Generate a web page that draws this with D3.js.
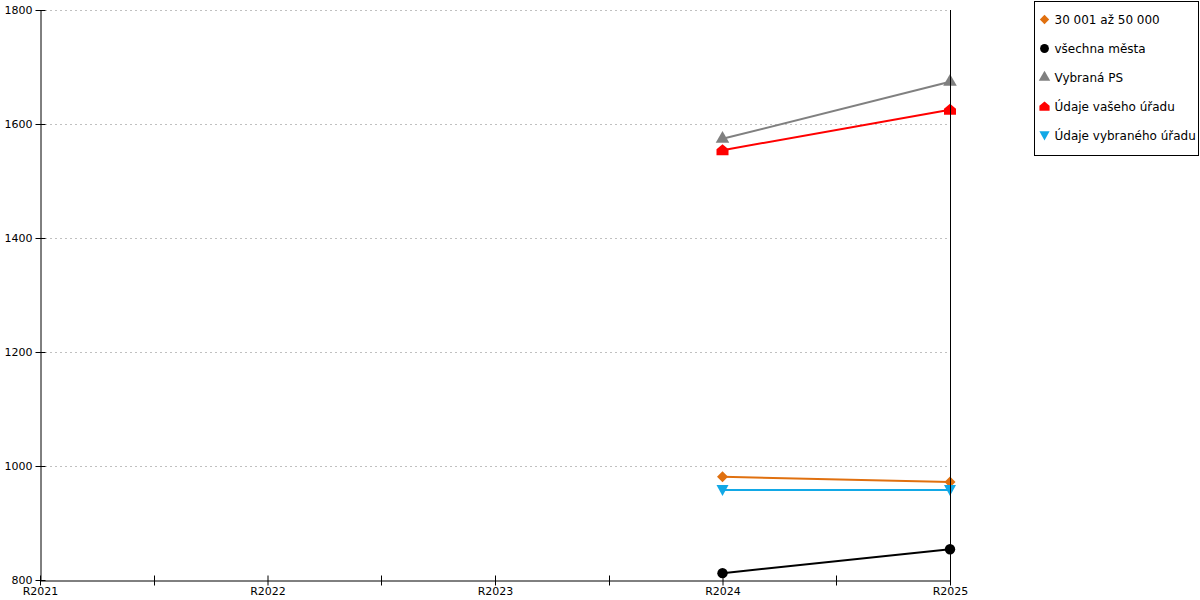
<!DOCTYPE html>
<html>
<head>
<meta charset="utf-8">
<script src="https://cdn.jsdelivr.net/npm/d3@7"></script>
<style>
  body { margin: 0; background: #fff; }
  text { font-family: "DejaVu Sans", Verdana, sans-serif; }
</style>
</head>
<body>
<div id="plot"></div>
<script>
// data
const years = ["R2021", "R2022", "R2023", "R2024", "R2025"];
const yTicks = [800, 1000, 1200, 1400, 1600, 1800];
const seriesNames = ["30 001 až 50 000", "všechna města", "Vybraná PS", "Údaje vašeho úřadu", "Údaje vybraného úřadu"];
const sizeGroup = [null, null, null, 981, 972];
const allCities = [null, null, null, 812, 854];
const selectedPS = [null, null, null, 1574, 1674];
const yourOffice = [null, null, null, 1554, 1625];
const selectedOffice = [null, null, null, 958, 958];

const width = 1200, height = 600;
const margin = {top: 10, right: 250, bottom: 20, left: 40};

const svg = d3.select("#plot").append("svg")
    .attr("width", width)
    .attr("height", height);

const x = d3.scalePoint().domain(years).range([margin.left, width - margin.right]);
const y = d3.scaleLinear().domain([800, 1800]).range([height - margin.bottom, margin.top]);

// grid
svg.append("g")
  .selectAll("line")
  .data(yTicks.filter(d => d > 800))
  .join("line")
    .attr("x1", margin.left).attr("x2", width - margin.right)
    .attr("y1", d => y(d) + 0.5).attr("y2", d => y(d) + 0.5)
    .attr("stroke", "#c0c0c0")
    .attr("stroke-dasharray", "2,3");

// y axis
const yAxis = svg.append("g")
    .attr("transform", `translate(${margin.left + 0.5},0)`)
    .call(d3.axisLeft(y).tickValues(yTicks).tickFormat(d3.format("d"))
      .tickSize(5).tickSizeOuter(0).tickPadding(3));
yAxis.selectAll(".tick line").attr("x1", 5).attr("x2", -5).attr("stroke", "#000");
yAxis.selectAll("text").attr("font-size", 11).attr("font-family", "DejaVu Sans");

// x axis with minor ticks between years
const xAxisY = height - margin.bottom + 0.5;
const xAxis = svg.append("g")
    .attr("transform", `translate(0,${xAxisY})`)
    .call(d3.axisBottom(x).tickSize(0).tickSizeOuter(0).tickPadding(7));
xAxis.selectAll("text").attr("font-size", 11).attr("font-family", "DejaVu Sans");
xAxis.selectAll(".tick line").attr("y1", -5).attr("y2", 5).attr("stroke", "#000");
const step = x.step();
const minor = years.slice(0, -1).map(d => x(d) + step / 2);
xAxis.append("g")
  .selectAll("line")
  .data(minor)
  .join("line")
    .attr("x1", d => Math.round(d) + 0.5).attr("x2", d => Math.round(d) + 0.5)
    .attr("y1", -5).attr("y2", 5)
    .attr("stroke", "#000");

// shapes
const diamond = "M0,-5.5 L5.5,0 L0,5.5 L-5.5,0 Z";
const house = "M-6,-1 L0,-6 L6,-1 L6,5 L-6,5 Z";
const shapes = [
  diamond,
  d3.symbol(d3.symbolCircle, 85)(),
  d3.symbol(d3.symbolTriangle, 80)(),
  house,
  "M-6,-5 L6,-5 L0,6 Z"
];
const colors = ["#e0700f", "#000000", "#808080", "#ff0000", "#12a8e6"];
const seriesData = [sizeGroup, allCities, selectedPS, yourOffice, selectedOffice];

const line = d3.line()
    .defined(d => d.v != null)
    .x(d => x(d.year))
    .y(d => y(d.v));

seriesData.forEach((vals, i) => {
  const pts = vals.map((v, j) => ({year: years[j], v}));
  svg.append("path")
      .datum(pts)
      .attr("d", line)
      .attr("fill", "none")
      .attr("stroke", colors[i])
      .attr("stroke-width", 2);
  svg.append("g")
    .selectAll("path")
    .data(pts.filter(d => d.v != null))
    .join("path")
      .attr("d", shapes[i])
      .attr("transform", d => `translate(${x(d.year)},${y(d.v)})`)
      .attr("fill", colors[i]);
});

// right vertical line at last year
svg.append("line")
    .attr("x1", x("R2025") + 0.5).attr("x2", x("R2025") + 0.5)
    .attr("y1", margin.top).attr("y2", height - margin.bottom)
    .attr("stroke", "#000");

// legend
const legend = svg.append("g").attr("transform", "translate(1034.5,1.5)");
legend.append("rect")
    .attr("width", 164).attr("height", 154)
    .attr("fill", "#fff").attr("stroke", "#000");
seriesNames.forEach((name, i) => {
  const g = legend.append("g").attr("transform", `translate(10,${18 + i * 29})`);
  g.append("path")
      .attr("d", shapes[i])
      .attr("transform", "scale(0.85)")
      .attr("fill", colors[i]);
  g.append("text")
      .attr("x", 10).attr("y", 4.5)
      .attr("font-size", 12)
      .text(name);
});
</script>
</body>
</html>
